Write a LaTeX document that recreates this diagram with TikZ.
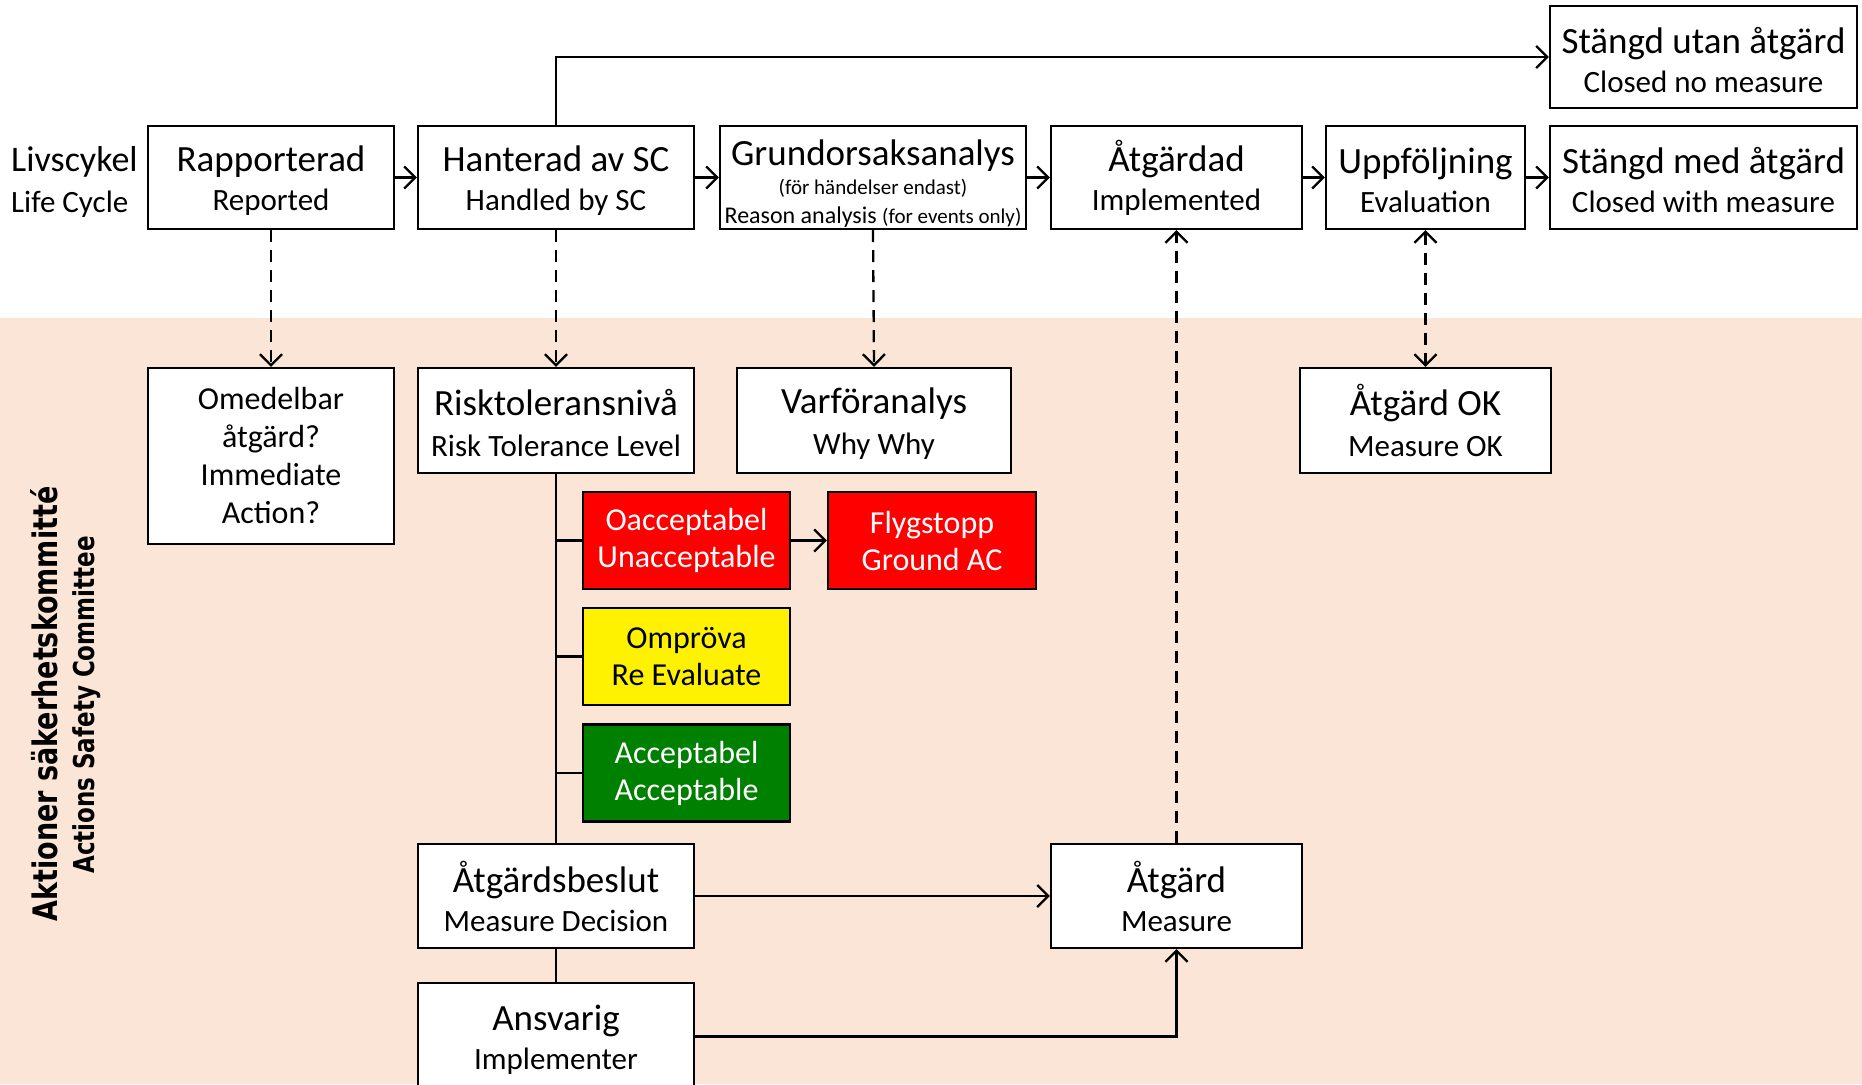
\documentclass[tikz,border=0pt]{standalone}
\usepackage{fontspec}
\setmainfont{Carlito}
\newfontfamily\vertfont{DejaVu Sans}
\usetikzlibrary{arrows.meta}
\definecolor{beige}{HTML}{FBE5D6}
\definecolor{okgreen}{HTML}{008000}
\tikzset{
  box/.style={draw, line width=2.3pt, fill=white, inner sep=0pt, align=center,
    font=\fontsize{37}{39}\selectfont},
  cbox/.style={box, font=\fontsize{32}{37}\selectfont},
  conn/.style={line width=2.3pt},
  arr/.style={conn, -{Straight Barb[length=11pt,width=22pt]}},
  darr/.style={arr, dash pattern=on 12pt off 8pt},
  dboth/.style={conn, dash pattern=on 12pt off 8pt,
    {Straight Barb[length=11pt,width=22pt]}-{Straight Barb[length=11pt,width=22pt]}},
}
\newcommand\subl[1]{{\fontsize{31}{39}\selectfont #1}}
\newcommand\tst{\rule{0pt}{32pt}}
\begin{document}
\begin{tikzpicture}[x=1pt,y=-1pt]
\useasboundingbox (0,0) rectangle (1862,1084);
\fill[beige] (0,318) rectangle (1862,1084);

% life cycle label
\node[anchor=west, align=left, inner sep=0pt, font=\fontsize{36}{41}\selectfont] (lc) at (11,182)
  {Livscykel\\\subl{Life Cycle}};

% top row
\node[box, minimum width=246pt, minimum height=103pt] (rap) at (271,177.5) {\tst Rapporterad\\\subl{Reported}};
\node[box, minimum width=276pt, minimum height=103pt] (han) at (556,177.5) {\tst Hanterad av SC\\\subl{Handled by SC}};
\node[box, minimum width=306pt, minimum height=103pt, font=\fontsize{37}{29}\selectfont] (gru) at (873,177.5)
  {\rule{0pt}{37pt}Grundorsaksanalys\\{\fontsize{21}{29}\selectfont (för händelser endast)}\\{\fontsize{24}{29}\selectfont Reason analysis \fontsize{21}{29}\selectfont(for events only)}};
\node[box, minimum width=251pt, minimum height=103pt] (atd) at (1176.5,177.5) {\tst Åtgärdad\\\subl{Implemented}};
\node[box, minimum width=199pt, minimum height=103pt] (upp) at (1425.5,177.5) {\tst Uppföljning\\\subl{Evaluation}};
\node[box, minimum width=307pt, minimum height=103pt] (smed) at (1703.5,177.5) {\tst Stängd med åtgärd\\\subl{Closed with measure}};
\node[box, minimum width=307pt, minimum height=102pt] (sutan) at (1703.5,57) {\tst Stängd utan åtgärd\\\subl{Closed no measure}};

% committee area
\node[box, minimum width=246pt, minimum height=176pt, font=\fontsize{32}{38}\selectfont] (ome) at (271,456)
  {Omedelbar\\åtgärd?\\Immediate\\Action?};
\node[box, minimum width=276pt, minimum height=105pt, font=\fontsize{37}{41}\selectfont] (risk) at (556,420.5) {\tst Risktoleransnivå\\\subl{Risk Tolerance Level}};
\node[box, minimum width=274pt, minimum height=105pt, font=\fontsize{37}{41}\selectfont] (var) at (874,420.5) {\tst Varföranalys\\\subl{Why Why}};
\node[box, minimum width=251pt, minimum height=105pt, font=\fontsize{37}{41}\selectfont] (aok) at (1425.5,420.5) {\tst Åtgärd OK\\\subl{Measure OK}};

\node[cbox, fill=red, text=white, minimum width=207pt, minimum height=97pt] (oac) at (686.5,540.5) {Oacceptabel\\Unacceptable};
\node[cbox, fill=red, text=white, minimum width=208pt, minimum height=97pt] (fly) at (932,540.5) {Flygstopp\\Ground AC};
\node[cbox, fill=yellow, text=black, minimum width=207pt, minimum height=97pt] (omp) at (686.5,656.5) {Ompröva\\Re Evaluate};
\node[cbox, fill=okgreen, text=white, minimum width=207pt, minimum height=97pt] (acc) at (686.5,773) {Acceptabel\\Acceptable};

\node[box, minimum width=276pt, minimum height=104pt] (bes) at (556,896) {\tst Åtgärdsbeslut\\\subl{Measure Decision}};
\node[box, minimum width=251pt, minimum height=104pt] (atg) at (1176.5,896) {\tst Åtgärd\\\subl{Measure}};
\node[box, minimum width=276pt, minimum height=107pt] (ans) at (556,1036.5) {\tst Ansvarig\\\subl{Implementer}};

% vertical labels
\node[rotate=90, yscale=1.25, inner sep=0pt, font=\vertfont\bfseries\fontsize{27}{30}\selectfont] (ak) at (44,704) {Aktioner säkerhetskommitté};
\node[rotate=90, yscale=1.25, inner sep=0pt, font=\vertfont\bfseries\fontsize{23}{26}\selectfont] (asc) at (87,705) {Actions Safety Committee};

% top row flow
\draw[arr] (rap.east) -- (han.west);
\draw[arr] (han.east) -- (gru.west);
\draw[arr] (gru.east) -- (atd.west);
\draw[arr] (atd.east) -- (upp.west);
\draw[arr] (upp.east) -- (smed.west);
\draw[arr] (han.north) -- (han.north |- sutan.west) -- (sutan.west);

% dashed links
\draw[darr] (rap.south) -- (ome.north);
\draw[darr] (han.south) -- (risk.north);
\draw[darr] (gru.south) -- (var.north);
\draw[darr] (atg.north) -- (atd.south);
\draw[dboth] (upp.south) -- (aok.north);

% risk tree
\draw[conn] (risk.south) -- (bes.north);
\draw[conn] (bes.south) -- (ans.north);
\draw[conn] (risk.south |- oac.west) -- (oac.west);
\draw[conn] (risk.south |- omp.west) -- (omp.west);
\draw[conn] (risk.south |- acc.west) -- (acc.west);
\draw[arr] (oac.east) -- (fly.west);
\draw[arr] (bes.east) -- (atg.west);
\draw[arr] (ans.east) -| (atg.south);
\end{tikzpicture}
\end{document}
